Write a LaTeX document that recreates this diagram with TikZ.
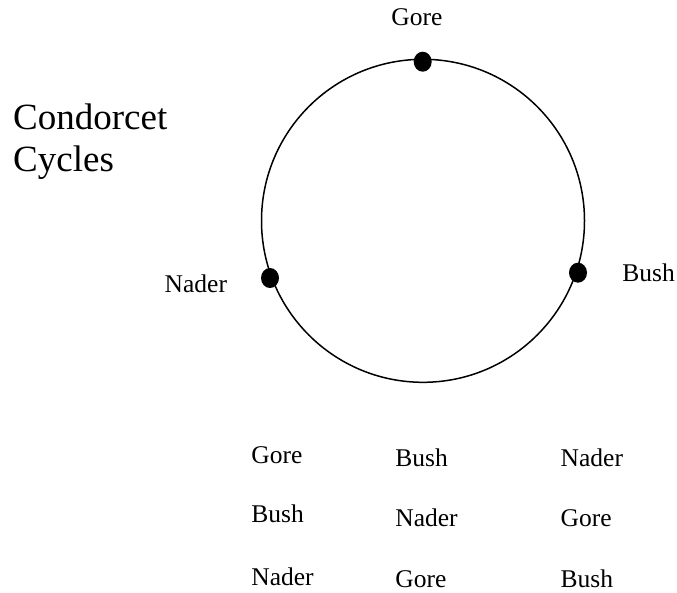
\documentclass[tikz,border=0pt]{standalone}
\usepackage{fontspec}
\setmainfont{Liberation Serif}
\usetikzlibrary{shapes.geometric}
\begin{document}
\begin{tikzpicture}[x=1pt,y=-1pt,
  lbl/.style={inner sep=0pt, anchor=base west, font=\fontsize{25.5}{30}\selectfont},
  ttl/.style={inner sep=0pt, anchor=base west, font=\fontsize{37}{42}\selectfont},
  vdot/.style={ellipse, fill=black, minimum width=18pt, minimum height=20pt, inner sep=0pt},
  ring/.style={circle, draw=black, line width=1.5pt, minimum size=323pt, inner sep=0pt}]
\useasboundingbox (0,0) rectangle (677,592);
% title
\node[ttl] (t1) at (13,129) {Condorcet};
\node[ttl] (t2) at (13,171.7) {Cycles};
% cycle
\node[ring] (cyc) at (423,220.8) {};
\node[vdot] (dg) at (422.7,61.7) {};
\node[vdot] (db) at (578,272.7) {};
\node[vdot] (dn) at (270,278) {};
\node[lbl] (lg) at (391.2,25) {Gore};
\node[lbl] (lb) at (622.2,281.7) {Bush};
\node[lbl] (ln) at (164.5,292.7) {Nader};
% preference table
\node[lbl] (a1) at (251.2,463.3) {Gore};
\node[lbl] (a2) at (251.2,522.7) {Bush};
\node[lbl] (a3) at (251.2,585.2) {Nader};
\node[lbl] (b1) at (395.2,466.7) {Bush};
\node[lbl] (b2) at (395.2,526.7) {Nader};
\node[lbl] (b3) at (395.2,587.2) {Gore};
\node[lbl] (c1) at (560.5,466.7) {Nader};
\node[lbl] (c2) at (560.5,526.7) {Gore};
\node[lbl] (c3) at (560.5,587.2) {Bush};
\end{tikzpicture}
\end{document}
